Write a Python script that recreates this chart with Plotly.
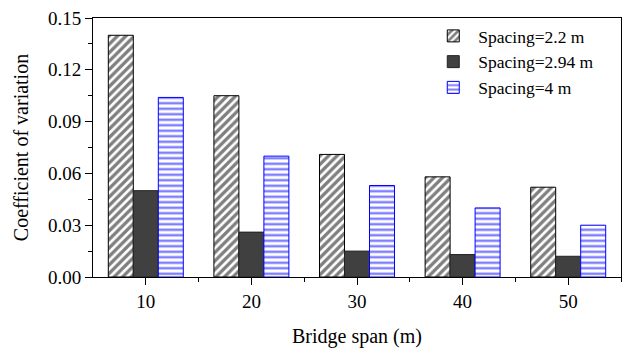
import plotly.graph_objects as go

spans = [10, 20, 30, 40, 50]
series_names = ["Spacing=2.2 m", "Spacing=2.94 m", "Spacing=4 m"]
cov_22 = [0.140, 0.105, 0.071, 0.058, 0.052]
cov_294 = [0.050, 0.026, 0.015, 0.013, 0.012]
cov_4 = [0.104, 0.070, 0.053, 0.040, 0.030]

y_ticks = [0.00, 0.03, 0.06, 0.09, 0.12, 0.15]
y_tick_labels = ["0.00", "0.03", "0.06", "0.09", "0.12", "0.15"]

FONT = "Liberation Serif, Times New Roman, serif"

fig = go.Figure()
fig.add_trace(go.Bar(
    x=spans, y=cov_22, name=series_names[0],
    marker=dict(color="white", line=dict(color="black", width=1),
                pattern=dict(shape="/", fgcolor="black", bgcolor="white",
                             size=6, solidity=0.55)),
))
fig.add_trace(go.Bar(
    x=spans, y=cov_294, name=series_names[1],
    marker=dict(color="#404040", line=dict(color="#222222", width=1)),
))
fig.add_trace(go.Bar(
    x=spans, y=cov_4, name=series_names[2],
    marker=dict(color="white", line=dict(color="blue", width=1),
                pattern=dict(shape="-", fgcolor="blue", bgcolor="white",
                             size=5.5, solidity=0.45)),
))

fig.update_layout(
    width=630, height=352,
    margin=dict(l=93, r=8, t=14, b=74),
    paper_bgcolor="white", plot_bgcolor="white",
    barmode="group", bargap=0.29, bargroupgap=0,
    font=dict(family=FONT, size=19, color="black"),
    showlegend=True,
    legend=dict(x=0.635, y=1.0, xanchor="left", yanchor="top",
                bgcolor="rgba(0,0,0,0)", font=dict(size=17.5, family=FONT),
                itemwidth=40, tracegroupgap=0),
)
fig.update_xaxes(
    range=[5, 55], tickvals=spans, ticktext=[str(s) for s in spans],
    ticks="outside", ticklen=7, tickwidth=1, tickcolor="black",
    minor=dict(tickvals=[15, 25, 35, 45, 55], ticks="outside", ticklen=4, tickcolor="black"),
    showline=True, linecolor="black", linewidth=1, mirror=True,
    showgrid=False, zeroline=False,
    tickfont=dict(size=19, family=FONT),
    title=dict(text="Bridge span (m)", font=dict(size=20, family=FONT), standoff=18),
)
fig.update_yaxes(
    range=[0, 0.15], tickvals=y_ticks, ticktext=y_tick_labels,
    ticks="outside", ticklen=7, tickwidth=1, tickcolor="black",
    minor=dict(tickvals=[0.015, 0.045, 0.075, 0.105, 0.135], ticks="outside", ticklen=4, tickcolor="black"),
    showline=True, linecolor="black", linewidth=1, mirror=True,
    showgrid=False, zeroline=False,
    tickfont=dict(size=19, family=FONT),
    title=dict(text="Coefficient of variation", font=dict(size=20, family=FONT), standoff=13),
)

fig.write_html("out.html")
